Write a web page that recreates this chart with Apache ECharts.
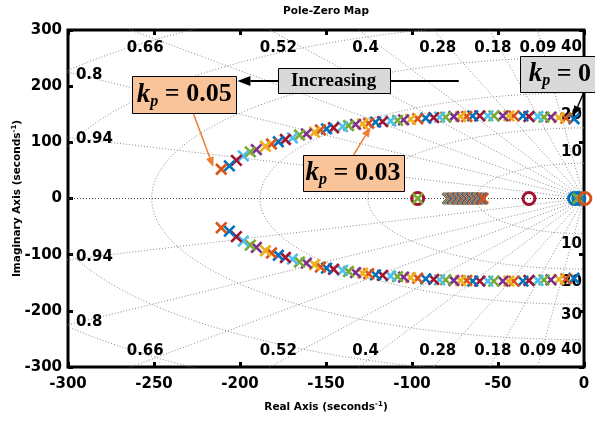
<!DOCTYPE html>
<html>
<head>
<meta charset="utf-8">
<script src="https://cdn.jsdelivr.net/npm/echarts@6/dist/echarts.min.js"></script>
<style>
  html, body { margin: 0; padding: 0; background: #fff; }
  #chart { width: 595px; height: 422px; }
</style>
</head>
<body>
<div id="chart"></div>
<script>
// ---- axis ticks ----
const xTicks = [-300, -250, -200, -150, -100, -50, 0];
const yTicks = [-300, -200, -100, 0, 100, 200, 300];

// ---- complex pole pair (upper half), one entry per gain kp = 0 ... 0.05 ----
const branchRe = [-5.8, -10.5, -14.6, -19.2, -23.3, -26.8, -32.0, -35.5, -40.8, -43.7,
  -47.2, -52.4, -55.9, -60.6, -64.7, -68.2, -71.7, -75.7, -80.4, -83.9,
  -87.4, -92.0, -96.7, -100.8, -104.9, -108.4, -112.4, -117.1, -121.2, -125.2,
  -128.7, -132.8, -136.9, -140.4, -145.6, -149.7, -153.2, -156.7, -161.4, -165.4,
  -169.5, -173.6, -177.7, -181.7, -185.2, -190.5, -194.0, -198.1, -202.1, -206.2,
  -210.9];
const branchIm = [142, 143, 144, 145, 145, 146, 146, 147, 147, 147,
  147, 147, 147, 147, 147, 146, 146, 146, 145, 145,
  144, 143, 142, 141, 140, 139, 138, 137, 136, 134,
  133, 132, 130, 128, 126, 124, 122, 118, 115, 113,
  108, 105, 101, 97, 93, 87, 83, 76, 68, 58,
  52];

// ---- real pole, one entry per gain ----
const realPoleRe = [-79.2, -78.7, -78.3, -77.8, -77.4, -76.9, -76.5, -76.1, -75.6, -75.2,
  -74.8, -74.4, -73.9, -73.5, -73.1, -72.7, -72.3, -71.9, -71.5, -71.1,
  -70.7, -70.3, -69.9, -69.5, -69.1, -68.7, -68.3, -67.9, -67.5, -67.1,
  -66.7, -66.3, -65.9, -65.5, -65.1, -64.7, -64.3, -63.9, -63.5, -63.1,
  -62.7, -62.3, -61.9, -61.5, -61.1, -60.7, -60.3, -59.9, -59.6, -59.3,
  -58.8];

// ---- fixed zeros and poles on the real axis ----
const zeroRe = [-96.7, -32.0, -5.5, -3.0];
const fixedPoleRe = [-96.7, -4.2, -3.5];
const originZeroRe = [0.5];

// ---- s-plane grid ----
const dampingRatios = [0.09, 0.18, 0.28, 0.4, 0.52, 0.66, 0.8, 0.94];
const gridFreqHz = [10, 20, 30, 40, 50, 60];
const topDampLabels = ['0.66', '0.52', '0.4', '0.28', '0.18', '0.09'];
const topDampLabelRe = [-255.1, -177.7, -127.0, -85.0, -53.0, -26.8];
const sideDampLabels = ['0.8', '0.94'];
const sideDampLabelIm = [220, 105];
const freqLabels = ['10', '20', '30', '40'];
const freqLabelIm = [82, 148, 208, 270];

// MATLAB default colour order
const palette = ['#0072BD', '#D95319', '#EDB120', '#7E2F8E', '#77AC30', '#4DBEEE', '#A2142F'];

const SANS = '"DejaVu Sans", sans-serif';
const SERIF = '"Liberation Serif", "Times New Roman", serif';

const chart = echarts.init(document.getElementById('chart'), null, { renderer: 'canvas' });

// pole markers drawn system by system so that later gains sit on top
const poleData = [];
for (let i = 0; i < branchRe.length; i++) {
  const c = palette[i % palette.length];
  poleData.push({ value: [branchRe[i], branchIm[i]], itemStyle: { borderColor: c } });
  poleData.push({ value: [branchRe[i], -branchIm[i]], itemStyle: { borderColor: c } });
  poleData.push({ value: [realPoleRe[i], 0], itemStyle: { borderColor: c } });
}

const zeroColors = [palette[6], palette[6], palette[0], palette[0]];
const zeroData = zeroRe.map((r, k) => ({ value: [r, 0], itemStyle: { borderColor: zeroColors[k] } }));
const fixedPoleColors = [palette[4], palette[0], palette[4]];
const fixedPoleData = fixedPoleRe.map((r, k) => ({ value: [r, 0], itemStyle: { borderColor: fixedPoleColors[k] } }));
const originZeroData = originZeroRe.map(r => ({ value: [r, 0], itemStyle: { borderColor: palette[1] } }));

// grid geometry
const gridSeries = [];
const gridLine = { color: '#8a8a8a', width: 1, type: [1, 2] };
dampingRatios.forEach(z => {
  const s = Math.sqrt(1 - z * z);
  gridSeries.push({
    type: 'line', data: [[-1000 * z, 1000 * s], [0, 0], [-1000 * z, -1000 * s]],
    showSymbol: false, silent: true, lineStyle: gridLine, z: 1, animation: false
  });
});
gridFreqHz.forEach(f => {
  const wn = 2 * Math.PI * f;
  const pts = [];
  for (let a = 90; a <= 270; a += 1) {
    const t = a * Math.PI / 180;
    pts.push([wn * Math.cos(t), wn * Math.sin(t)]);
  }
  gridSeries.push({
    type: 'line', data: pts, showSymbol: false, silent: true,
    lineStyle: gridLine, z: 1, animation: false
  });
});
// zero line along the real axis
gridSeries.push({
  type: 'line', data: [[-300, 0], [0, 0]], showSymbol: false, silent: true,
  lineStyle: { color: '#444', width: 1, type: [1, 2] }, z: 1, animation: false
});

const labelFont = { fontFamily: SANS, fontWeight: 'bold', fontSize: 15, color: '#000', opacity: 1 };
function textMarks(items, position) {
  return {
    type: 'scatter', symbolSize: 0, silent: true, z: 2, animation: false,
    itemStyle: { opacity: 1 },
    data: items,
    label: Object.assign({ show: true, position: position, distance: 1, formatter: p => p.name }, labelFont)
  };
}
const centerLabels = [];
topDampLabels.forEach((t, k) => {
  centerLabels.push({ name: t, value: [topDampLabelRe[k], 268] });
  centerLabels.push({ name: t, value: [topDampLabelRe[k], -272] });
});
const leftLabels = [];
sideDampLabels.forEach((t, k) => {
  leftLabels.push({ name: t, value: [-296, sideDampLabelIm[k]] });
  leftLabels.push({ name: t, value: [-296, -sideDampLabelIm[k]] });
});
const rightLabels = [];
freqLabels.forEach((t, k) => {
  rightLabels.push({ name: t, value: [-0.6, freqLabelIm[k]] });
  rightLabels.push({ name: t, value: [-0.6, -freqLabelIm[k]] });
});

const crossSymbol = 'path://M0 0L10 10M10 0L0 10';
const tickStyle = { inside: true, length: 5, lineStyle: { width: 3, color: '#000' } };
const axisFont = { fontFamily: SANS, fontWeight: 'bold', fontSize: 15, color: '#000' };
const nameRich = {
  sup: { fontFamily: SANS, fontWeight: 'bold', fontSize: 7, verticalAlign: 'top', lineHeight: 8, color: '#000' }
};
const hiddenLine = { show: false, onZero: false };

chart.setOption({
  animation: false,
  backgroundColor: '#fff',
  grid: {
    left: 68, right: 11, top: 30, bottom: 55, show: true, borderColor: '#000', borderWidth: 3,
    containLabel: false, outerBoundsMode: 'none'
  },
  xAxis: [
    {
      type: 'value', min: xTicks[0], max: xTicks[xTicks.length - 1], interval: 50, position: 'bottom',
      axisLine: hiddenLine, axisTick: tickStyle, splitLine: { show: false },
      axisLabel: Object.assign({ margin: 10, formatter: v => String(v) }, axisFont),
      name: 'Real Axis (seconds{sup|-1})', nameLocation: 'middle', nameGap: 34, nameMoveOverlap: false,
      nameTextStyle: { fontFamily: SANS, fontWeight: 'bold', fontSize: 10.5, color: '#000', lineHeight: 13, rich: nameRich }
    },
    {
      type: 'value', min: xTicks[0], max: xTicks[xTicks.length - 1], interval: 50, position: 'top',
      axisLine: hiddenLine, axisTick: tickStyle, splitLine: { show: false }, axisLabel: { show: false }
    }
  ],
  yAxis: [
    {
      type: 'value', min: yTicks[0], max: yTicks[yTicks.length - 1], interval: 100, position: 'left',
      axisLine: hiddenLine, axisTick: tickStyle, splitLine: { show: false },
      axisLabel: Object.assign({ margin: 6 }, axisFont),
      name: 'Imaginary Axis (seconds{sup|-1})', nameLocation: 'middle', nameGap: 44, nameMoveOverlap: false,
      nameTextStyle: { fontFamily: SANS, fontWeight: 'bold', fontSize: 10.5, color: '#000', lineHeight: 13, rich: nameRich }
    },
    {
      type: 'value', min: yTicks[0], max: yTicks[yTicks.length - 1], interval: 100, position: 'right',
      axisLine: hiddenLine, axisTick: tickStyle, splitLine: { show: false }, axisLabel: { show: false }
    }
  ],
  series: gridSeries.concat([
    textMarks(centerLabels, 'inside'),
    textMarks(leftLabels, 'right'),
    textMarks(rightLabels, 'left'),
    {
      type: 'scatter', name: 'zeros', data: zeroData, symbol: 'circle', symbolSize: 12, z: 3,
      itemStyle: { color: 'rgba(0,0,0,0)', borderWidth: 3, opacity: 1 }, silent: true, clip: false, animation: false
    },
    {
      type: 'scatter', name: 'poles', data: poleData, symbol: crossSymbol, symbolSize: 10.5, z: 4,
      itemStyle: { color: 'rgba(0,0,0,0)', borderWidth: 2.6, opacity: 1 }, silent: true, clip: false, animation: false
    },
    {
      type: 'scatter', name: 'fixed poles', data: fixedPoleData, symbol: crossSymbol, symbolSize: 10.5, z: 5,
      itemStyle: { color: 'rgba(0,0,0,0)', borderWidth: 2.6, opacity: 1 }, silent: true, clip: false, animation: false
    },
    {
      type: 'scatter', name: 'origin zero', data: originZeroData, symbol: 'circle', symbolSize: 12, z: 6,
      itemStyle: { color: 'rgba(0,0,0,0)', borderWidth: 3, opacity: 1 }, silent: true, clip: false, animation: false
    }
  ])
});

// ---- annotations (placed in data coordinates) ----
const boxes = [
  { at: [-145.6, 210], w: 112, h: 25, fill: '#D9D9D9', kind: 'word', text: 'Increasing' },
  { at: [-232.4, 185], w: 104, h: 37, fill: '#F9C49A', kind: 'gain', text: '0.05' },
  { at: [-134.3, 45.4], w: 101, h: 36, fill: '#F9C49A', kind: 'gain', text: '0.03' },
  { at: [-14.0, 221.6], w: 80, h: 36, fill: '#D9D9D9', kind: 'gain', text: '0' }
];
const arrows = [
  { from: [-72.8, 209], to: [-201.5, 209], color: '#000', width: 2, head: 13, half: 5 },
  { from: [-227.2, 152.2], to: [-215.5, 56], color: '#ED7D31', width: 1.5, head: 10, half: 4 },
  { from: [-134.0, 77.4], to: [-124.1, 127.3], color: '#ED7D31', width: 1.5, head: 10, half: 4 },
  { from: [0, 189.6], to: [-5.8, 148.6], color: '#000', width: 1.5, head: 9, half: 4 }
];

function px(p) { return chart.convertToPixel({ xAxisIndex: 0, yAxisIndex: 0 }, p); }

const graphics = [];
graphics.push({
  type: 'text', x: 326, y: 11, z: 200,
  style: { text: 'Pole-Zero Map', fontFamily: SANS, fontWeight: 'bold', fontSize: 10.5, fill: '#000', align: 'center', verticalAlign: 'middle' }
});
arrows.forEach(a => {
  const p0 = px(a.from), p1 = px(a.to);
  const dx = p1[0] - p0[0], dy = p1[1] - p0[1];
  const L = Math.hypot(dx, dy), ux = dx / L, uy = dy / L;
  const bx = p1[0] - ux * a.head, by = p1[1] - uy * a.head;
  graphics.push({
    type: 'line', z: 100, shape: { x1: p0[0], y1: p0[1], x2: bx, y2: by },
    style: { stroke: a.color, lineWidth: a.width }
  });
  graphics.push({
    type: 'polygon', z: 100,
    shape: { points: [[p1[0], p1[1]], [bx - uy * a.half, by + ux * a.half], [bx + uy * a.half, by - ux * a.half]] },
    style: { fill: a.color }
  });
});
boxes.forEach(b => {
  const c = px(b.at);
  graphics.push({
    type: 'rect', z: 110,
    shape: { x: Math.round(c[0] - b.w / 2) + 0.5, y: Math.round(c[1] - b.h / 2) + 0.5, width: b.w, height: b.h },
    style: { fill: b.fill, stroke: '#000', lineWidth: 1 }
  });
  if (b.kind === 'word') {
    graphics.push({
      type: 'text', z: 120, x: c[0], y: c[1] + 1,
      style: { text: b.text, fontFamily: SERIF, fontWeight: 'bold', fontSize: 19, fill: '#000', align: 'center', verticalAlign: 'middle' }
    });
  } else {
    graphics.push({
      type: 'text', z: 120, x: c[0], y: c[1],
      style: {
        text: '{k|k}{p|p}{t| = ' + b.text + '}',
        align: 'center', verticalAlign: 'middle',
        rich: {
          k: { fontFamily: SERIF, fontStyle: 'italic', fontWeight: 'bold', fontSize: 27, lineHeight: 30, fill: '#000' },
          p: { fontFamily: SERIF, fontStyle: 'italic', fontWeight: 'bold', fontSize: 16, lineHeight: 17, verticalAlign: 'bottom', fill: '#000' },
          t: { fontFamily: SERIF, fontWeight: 'bold', fontSize: 26, lineHeight: 30, fill: '#000' }
        }
      }
    });
  }
});
chart.setOption({ graphic: graphics });
</script>
</body>
</html>
